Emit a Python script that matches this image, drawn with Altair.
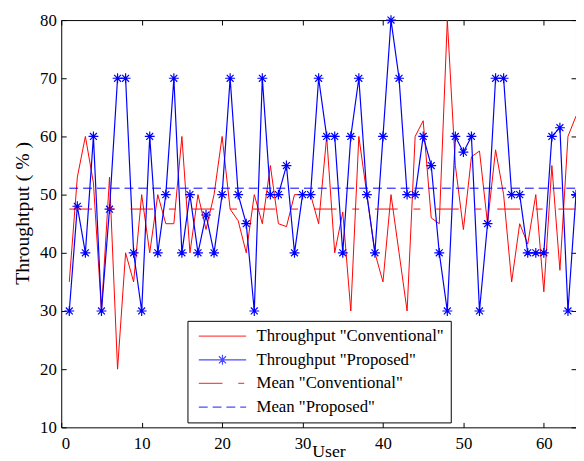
import altair as alt
import pandas as pd
import numpy as np

# ---------------- data ----------------
users = list(range(1, 65))
conventional = [35, 53, 60, 52, 30, 53, 20, 40, 35, 50,
                40, 50, 45, 45, 60, 40, 50, 44, 50, 60,
                47.5, 45.5, 40, 50, 45, 55, 45, 44.5, 50, 50,
                50, 45, 60, 40, 47, 30, 60, 50, 40, 35,
                50, 40, 30, 60, 62.7, 46, 45, 80, 55, 44,
                56.5, 57.5, 45, 57.7, 50, 35, 45, 41.5, 50, 33.3,
                55, 37, 60, 63.5]
proposed = [30, 48, 40, 60, 30, 47.5, 70, 70, 40, 30,
            60, 40, 50, 70, 40, 50, 40, 46.5, 40, 50,
            70, 50, 45, 30, 70, 50, 50, 55, 40, 50,
            50, 70, 60, 60, 40, 60, 70, 50, 40, 60,
            80, 70, 50, 50, 60, 55, 40, 30, 60, 57.3,
            60, 30, 45, 70, 70, 50, 50, 40, 40, 40,
            60, 61.5, 30, 50]
x_ticks = [0, 10, 20, 30, 40, 50, 60]
y_ticks = [10, 20, 30, 40, 50, 60, 70, 80]
series_names = ['Throughput "Conventional"', 'Throughput "Proposed"',
                'Mean "Conventional"', 'Mean "Proposed"']

mean_conv = float(np.mean(conventional))
mean_prop = float(np.mean(proposed))

# ---------------- styling ----------------
FONT = "Liberation Serif"
W, H = 522, 413
RED, BLUE = "#ff0000", "#0000ff"
series_colors = [RED, BLUE, RED, BLUE]
STAR = "M-1,0L1,0M0,-1L0,1M-0.7,-0.7L0.7,0.7M-0.7,0.7L0.7,-0.7"
# legend symbols: unit = 4px, drawn from -1 (left edge) to 11 (48px line)
legend_paths = [
    "M-1,0L11,0",
    "M-1,0L11,0M3.75,0L6.25,0M5,-1.25L5,1.25M4.1,-0.9L5.9,0.9M4.1,0.9L5.9,-0.9",
    "M-1,0L5,0M9,0L10.5,0",
    "M-1,0L1.25,0M2.5,0L4.75,0M6,0L8.25,0M9.5,0L11,0",
]

df_conv = pd.DataFrame({"user": users, "value": conventional})
df_prop = pd.DataFrame({"user": users, "value": proposed})
df_mconv = pd.DataFrame({"user": [users[0], users[-1]], "value": [mean_conv, mean_conv]})
df_mprop = pd.DataFrame({"user": [users[0], users[-1]], "value": [mean_prop, mean_prop]})
df_leg = pd.DataFrame({"user": [1, 1, 1, 1], "value": [50, 50, 50, 50], "series": series_names})

xs = alt.Scale(domain=[0, 64], nice=False, zero=False)
ys = alt.Scale(domain=[10, 80], nice=False, zero=False)

def tick_axis(orient, offset, values):
    return alt.Axis(orient=orient, offset=offset, values=values, labels=False,
                    ticks=True, tickSize=5, tickColor="black", tickWidth=1,
                    domain=False, grid=False, title=None)

# main axes (labels + titles)
x_main = alt.Axis(orient="bottom", values=x_ticks, ticks=False, tickSize=0, domain=False,
                  grid=False, labelFont=FONT, labelFontSize=17, labelColor="black",
                  labelPadding=8, labelBaseline="top",
                  title="User", titleFont=FONT, titleFontSize=18, titleFontWeight="normal",
                  titleColor="black", titleX=271, titleY=30, titleBaseline="alphabetic",
                  titleAlign="center")
y_main = alt.Axis(orient="left", values=y_ticks, ticks=False, tickSize=0, domain=False,
                  grid=False, labelFont=FONT, labelFontSize=17, labelColor="black",
                  labelPadding=5,
                  title="Throughtput ( % )", titleFont=FONT, titleFontSize=20,
                  titleFontWeight="normal", titleColor="black", titleX=-39.5, titleY=195.5,
                  titleAngle=270, titleAlign="center", titleBaseline="middle")

red_line = alt.Chart(df_conv).mark_line(color=RED, strokeWidth=1).encode(
    x=alt.X("user:Q", scale=xs, axis=x_main),
    y=alt.Y("value:Q", scale=ys, axis=y_main),
)

blue_line = alt.Chart(df_prop).mark_line(color=BLUE, strokeWidth=1.2).encode(
    x=alt.X("user:Q", scale=xs, axis=None),
    y=alt.Y("value:Q", scale=ys, axis=None),
)

blue_pts = alt.Chart(df_prop).mark_point(shape=STAR, size=100, color=BLUE, filled=False,
                                          strokeWidth=1.2, opacity=1).encode(
    x=alt.X("user:Q", scale=xs, axis=None),
    y=alt.Y("value:Q", scale=ys, axis=None),
)

mean_red = alt.Chart(df_mconv).mark_line(color=RED, strokeWidth=1,
                                         strokeDash=[23, 16, 7, 16]).encode(
    x=alt.X("user:Q", scale=xs, axis=tick_axis("top", -H, x_ticks)),
    y=alt.Y("value:Q", scale=ys, axis=tick_axis("right", -W, y_ticks)),
)

mean_blue = alt.Chart(df_mprop).mark_line(color=BLUE, strokeWidth=1,
                                          strokeDash=[9, 5]).encode(
    x=alt.X("user:Q", scale=xs, axis=tick_axis("bottom", -H, x_ticks)),
    y=alt.Y("value:Q", scale=ys, axis=tick_axis("left", -W, y_ticks)),
)

leg_common = dict(orient="none", legendX=128, legendY=305, title=None,
                  fillColor="white", strokeColor="black", padding=7,
                  labelFont=FONT, labelFontSize=17, labelColor="black", labelLimit=400,
                  labelOffset=46, rowPadding=6, symbolSize=64, symbolStrokeWidth=1.2)

legend_layer = alt.Chart(df_leg).transform_filter("false").mark_point(
    filled=False, size=64, strokeWidth=1.2).encode(
    x=alt.X("user:Q", scale=xs, axis=None),
    y=alt.Y("value:Q", scale=ys, axis=None),
    color=alt.Color("series:N", scale=alt.Scale(domain=series_names, range=series_colors),
                    legend=alt.Legend(**leg_common)),
    shape=alt.Shape("series:N", scale=alt.Scale(domain=series_names, range=legend_paths),
                    legend=alt.Legend(**leg_common)),
)

chart = alt.layer(red_line, blue_line, blue_pts, mean_red, mean_blue, legend_layer).resolve_axis(
    x="independent", y="independent"
).properties(
    width=W, height=H,
    padding={"left": 54, "top": 9, "right": 0, "bottom": 40},
    autosize=alt.AutoSizeParams(type="none"),
    background="white",
).configure_view(stroke="black", strokeWidth=1)

chart.save("out.html", embed_options={"renderer": "svg", "actions": False})
